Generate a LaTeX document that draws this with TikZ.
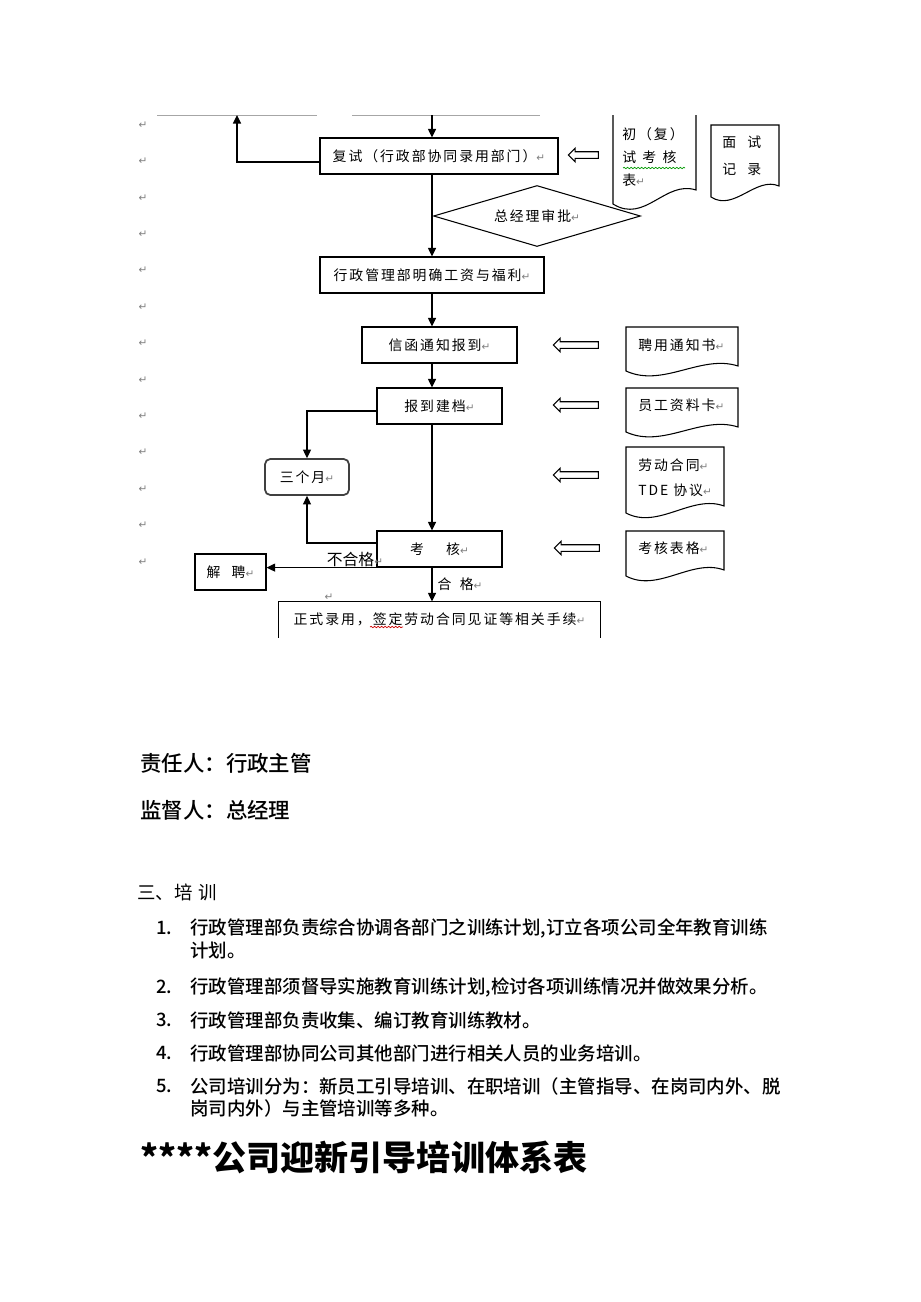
\documentclass[tikz,border=0pt]{standalone}
\usepackage{fontspec}
\setmainfont{Noto Sans CJK SC}
\newfontfamily\flowfont[LetterSpace=14]{Noto Sans CJK SC}
\newfontfamily\medfont{Noto Sans CJK SC Medium}
\newfontfamily\markfont{DejaVu Sans}
\usetikzlibrary{arrows.meta,shapes.geometric,shapes.arrows,decorations.pathmorphing}
\newcommand{\pmk}{{\markfont\color{gray}\fontsize{6}{6}\selectfont ↵}}

\begin{document}
\begin{tikzpicture}[x=0.02cm,y=-0.02cm,
    box/.style={draw,line width=0.7pt,inner sep=0,minimum height=0.72cm,font=\flowfont\fontsize{7.9}{9}\selectfont},
    arr/.style={line width=0.7pt,-{Triangle[length=0.17cm,width=0.16cm]}},
    ln/.style={line width=0.7pt},
    doc/.style={line width=0.6pt},
    txt/.style={font=\flowfont\fontsize{7.9}{13}\selectfont,inner sep=0,align=left,anchor=west},
    hollow/.style={draw,single arrow,rotate=180,inner sep=0.055cm,line width=0.6pt,minimum width=0.26cm,single arrow head extend=0.07cm,single arrow head indent=0pt},
    body/.style={inner sep=0,anchor=west,font=\medfont\fontsize{10.5}{12}\selectfont},
    squig/.style={line width=0.4pt,decorate,decoration={snake,amplitude=0.4pt,segment length=2pt}}]
  \useasboundingbox (0,0) rectangle (920,1302);
  % paragraph marks down the margin
  \foreach \i in {0,...,12}
    \node[inner sep=0] (pm\i) at (143,{125+36.4*\i}) {\pmk};
%  \draw[style=help lines,step=1cm] (0,0) grid (920,1302);

  % cut-off lines of the page above
  \draw[gray!70,line width=0.4pt] (157,115) -- (317,115) (352,115) -- (540,115);
  \coordinate (mx) at (432,0);
  \coordinate (upA) at (432,115);
  \coordinate (upB) at (237,115);

  % flow boxes
  \node[box,minimum width=4.76cm] (fushi) at (439,156) {复试（行政部协同录用部门）\pmk};
  \node[box,diamond,aspect=3.4,minimum width=4.14cm,minimum height=1.22cm,line width=0.6pt] (shenpi) at (537,216) {总经理审批\pmk};
  \node[box,minimum width=4.48cm] (mingque) at (432,275) {行政管理部明确工资与福利\pmk};
  \node[box,minimum width=3.1cm] (xinhan) at (439.5,345) {信函通知报到\pmk};
  \node[box,minimum width=2.5cm] (jiandang) at (439.5,406) {报到建档\pmk};
  \node[box,rounded corners=3pt,draw=black!75,line width=1pt,minimum width=1.68cm] (sange) at (307,477) {三个月\pmk};
  \node[box,minimum width=2.5cm] (kaohe) at (439.5,549) {考\hspace{1.6em}核\pmk};
  \node[box,minimum width=1.42cm] (jiepin) at (230.5,572) {解\hspace{0.8em}聘\pmk};
  \node[box,draw=none,minimum width=6.42cm,minimum height=0.7cm] (zhengshi) at (439.5,619.5) {正式录用，签定劳动合同见证等相关手续\pmk};
  \draw[ln] (zhengshi.south west) |- (zhengshi.north east) -- (zhengshi.south east);

  % connectors
  \draw[arr] (upA) -- (fushi.north -| mx);
  \draw[arr] ([yshift=-0.12cm]fushi.west) -| (upB);
  \draw[arr] (fushi.south -| mx) -- (mingque.north -| mx);
  \draw[arr] (mingque.south -| mx) -- (xinhan.north -| mx);
  \draw[arr] (xinhan.south -| mx) -- (jiandang.north -| mx);
  \draw[arr] ([yshift=-0.1cm]jiandang.west) -| (sange.north);
  \draw[arr] (jiandang.south -| mx) -- (kaohe.north -| mx);
  \draw[arr] ([yshift=0.12cm]kaohe.west) -| (sange.south);
  \draw[arr] (kaohe.south west) -- (kaohe.south west -| jiepin.east);
  \draw[arr] (kaohe.south -| mx) -- (zhengshi.north -| mx);
  \node[inner sep=0,font=\fontsize{9}{10}\selectfont] (buhege) at (355,559) {不合格\pmk};
  \node[inner sep=0,font=\flowfont\fontsize{7.9}{9}\selectfont] (hege) at (460,584) {合\hspace{0.6em}格\pmk};
  \node[inner sep=0,font=\markfont\color{gray}\fontsize{6}{6}\selectfont] (pmz) at (329,597) {↵};

  % hollow arrows
  \node[hollow,minimum height=0.6cm] (h1) at (585,155) {};
  \node[hollow,minimum height=0.9cm] (h2) at (577.5,345) {};
  \node[hollow,minimum height=0.9cm] (h3) at (577.5,405) {};
  \node[hollow,minimum height=0.9cm] (h4) at (577.5,475) {};
  \node[hollow,minimum height=0.9cm] (h5) at (578.5,548) {};

  % documents
  \draw[doc] (613,115) -- (613,204) .. controls (645,224) and (665,180) .. (696,190) -- (696,115);
  \draw[doc] (711,125) -- (711,197) .. controls (734,212) and (756,176) .. (779,186) -- (779,125) -- cycle;
  \draw[doc] (626,327) -- (626,371) .. controls (663,388) and (701,354) .. (738,366) -- (738,327) -- cycle;
  \draw[doc] (626,388) -- (626,432) .. controls (663,449) and (701,415) .. (738,427) -- (738,388) -- cycle;
  \draw[doc] (626,447) -- (626,513) .. controls (658,530) and (692,494) .. (724,506) -- (724,447) -- cycle;
  \draw[doc] (626,531) -- (626,576) .. controls (658,593) and (692,558) .. (724,570) -- (724,531) -- cycle;
  \node[txt] (d1) at (622,157) {初（复）\\试\hspace{0.45em}考\hspace{0.45em}核\\表\pmk};
  \node[txt,font=\flowfont\fontsize{7.9}{15.3}\selectfont] (d2) at (722,156) {面\hspace{0.8em}试\\记\hspace{0.8em}录};
  \node[txt] (d3) at (638,345) {聘用通知书\pmk};
  \node[txt] (d4) at (638,405) {员工资料卡\pmk};
  \node[txt,font=\flowfont\fontsize{7.9}{14}\selectfont] (d5) at (638,478) {劳动合同\pmk\\TDE 协议\pmk};
  \node[txt] (d6) at (638,548) {考核表格\pmk};
  \draw[squig,green!60!black] (623,168) -- (685,168);
  \draw[squig,red!80!black] (370,627) -- (403,627);

  % text below the chart
  \node[body,font=\medfont\fontsize{12.2}{14}\selectfont] (zeren) at (140,763) {责任人：行政主管};
  \node[body,font=\medfont\fontsize{12.2}{14}\selectfont] (jiandu) at (140,810) {监督人：总经理};
  \node[body,font=\fontsize{10.5}{12}\selectfont] (peixun) at (137,892) {三、培\hspace{0.3em}训};
  \foreach \n/\y/\t in {1./928/{行政管理部负责综合协调各部门之训练计划,订立各项公司全年教育训练},
                        /950/{计划。},
                        2./987/{行政管理部须督导实施教育训练计划,检讨各项训练情况并做效果分析。},
                        3./1020/{行政管理部负责收集、编订教育训练教材。},
                        4./1053/{行政管理部协同公司其他部门进行相关人员的业务培训。},
                        5./1086/{公司培训分为：新员工引导培训、在职培训（主管指导、在岗司内外、脱},
                        /1108/{岗司内外）与主管培训等多种。}}{
    \node[body] (num\y) at (156,\y) {\n};
    \node[body] (item\y) at (190,\y) {\t};
  }
  \node[body,font=\bfseries\fontsize{19.4}{22}\selectfont] (title) at (140,1157) {****公司迎新引导培训体系表};
\end{tikzpicture}
\end{document}
